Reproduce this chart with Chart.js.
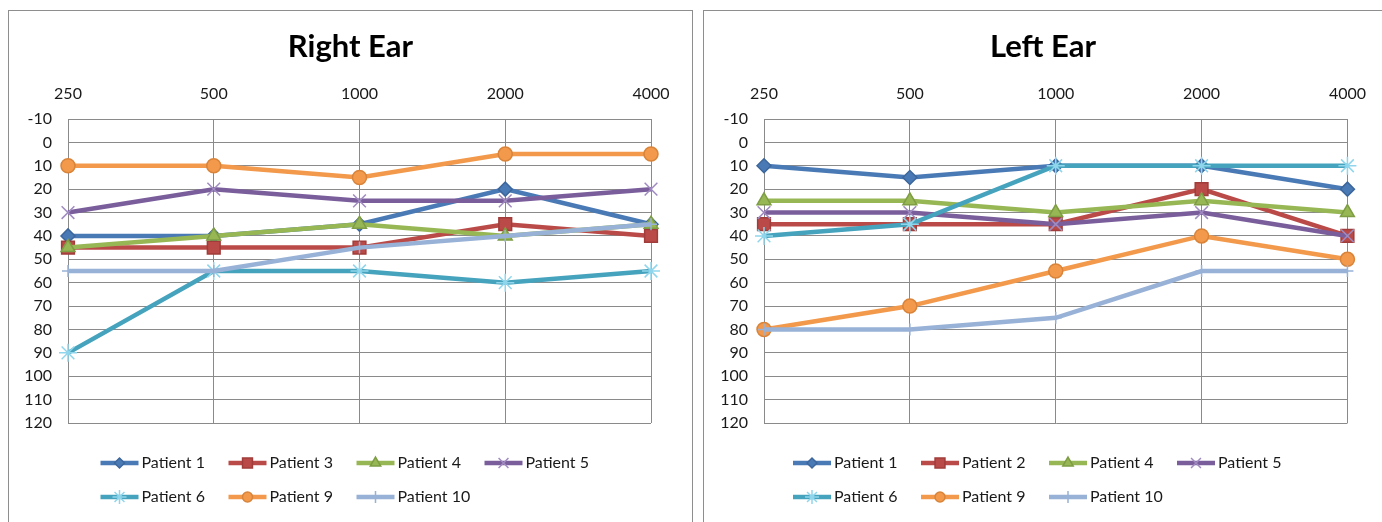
<!DOCTYPE html>
<html lang="en">
<head>
  <meta charset="UTF-8" />
  <title>Audiogram - Right / Left Ear</title>
  <script src="https://cdn.jsdelivr.net/npm/chart.js"></script>
  <style>
    body {
      margin: 0;
      background: #fff;
      font-family: Lato, sans-serif;
    }
    .box {
      position: absolute;
      top: 10px;
      height: 530px;
      border: 1px solid #8e8e8e;
      background: #fff;
    }
    #rightBox { left: 8px; width: 683px; }
    #leftBox { left: 703px; width: 690px; }
    canvas { display: block; }
  </style>
</head>
<body>
  <div class="box" id="rightBox"><canvas id="rightChart" width="683" height="511"></canvas></div>
  <div class="box" id="leftBox"><canvas id="leftChart" width="678" height="511"></canvas></div>

  <script>
    // frequencies (Hz) along the top
    const freqs = ['250', '500', '1000', '2000', '4000'];

    // hearing level (dB), right ear
    const rightP1  = [40, 40, 35, 20, 35];
    const rightP3  = [45, 45, 45, 35, 40];
    const rightP4  = [45, 40, 35, 40, 35];
    const rightP5  = [30, 20, 25, 25, 20];
    const rightP6  = [90, 55, 55, 60, 55];
    const rightP9  = [10, 10, 15, 5, 5];
    const rightP10 = [55, 55, 45, 40, 35];

    // hearing level (dB), left ear
    const leftP1  = [10, 15, 10, 10, 20];
    const leftP2  = [35, 35, 35, 20, 40];
    const leftP4  = [25, 25, 30, 25, 30];
    const leftP5  = [30, 30, 35, 30, 40];
    const leftP6  = [40, 35, 10, 10, 10];
    const leftP9  = [80, 70, 55, 40, 50];
    const leftP10 = [80, 80, 75, 55, 55];

    const looks = {
      'Patient 1':  { color: '#4A7AB5', point: 'rectRot',  r: 7, fill: '#4A7AB5', edge: '#3D679C', lr: 5 },
      'Patient 2':  { color: '#BA4A47', point: 'rect',     r: 9, fill: '#BA4A47', edge: '#A03C3A', lr: 7 },
      'Patient 3':  { color: '#BA4A47', point: 'rect',     r: 9, fill: '#BA4A47', edge: '#A03C3A', lr: 7 },
      'Patient 4':  { color: '#97B755', point: 'triangle', r: 8, fill: '#97B755', edge: '#7E9D44', lr: 6 },
      'Patient 5':  { color: '#7A5E9C', point: 'crossRot', r: 9, fill: '#7A5E9C', edge: '#A08BC0', lr: 7 },
      'Patient 6':  { color: '#46A3BD', point: 'star',     r: 9, fill: '#46A3BD', edge: '#8FD6EC', lr: 7 },
      'Patient 9':  { color: '#F2994B', point: 'circle',   r: 7, fill: '#F2994B', edge: '#D9843A', lr: 5 },
      'Patient 10': { color: '#98B1D6', point: 'cross',    r: 6, fill: '#98B1D6', edge: '#98B1D6', lr: 6 }
    };

    function series(label, data, i, n) {
      const s = looks[label];
      return {
        label: label,
        data: data,
        borderColor: s.color,
        backgroundColor: s.color,
        borderWidth: 4.5,
        tension: 0,
        pointStyle: s.point,
        pointRadius: s.r,
        pointHoverRadius: s.r,
        pointBackgroundColor: s.fill,
        pointBorderColor: s.edge,
        pointBorderWidth: 1.5,
        legendRadius: s.lr,
        clip: false,
        order: n - i // later series on top
      };
    }

    // line + marker legend, laid out in a 4-column grid below the plot
    const lineLegend = {
      id: 'lineLegend',
      afterDraw(chart, args, opts) {
        const ctx = chart.ctx;
        const cols = 4, colW = 128;
        const x0 = (chart.width - cols * colW) / 2 + opts.shift;
        ctx.save();
        chart.data.datasets.forEach((ds, i) => {
          const x = x0 + (i % cols) * colW;
          const y = opts.top + Math.floor(i / cols) * opts.rowH;
          ctx.strokeStyle = ds.borderColor;
          ctx.lineWidth = 4.5;
          ctx.beginPath();
          ctx.moveTo(x, y);
          ctx.lineTo(x + 38, y);
          ctx.stroke();
          ctx.fillStyle = ds.pointBackgroundColor;
          ctx.strokeStyle = ds.pointBorderColor;
          ctx.lineWidth = 1.5;
          Chart.helpers.drawPoint(ctx, {
            pointStyle: ds.pointStyle, radius: ds.legendRadius, borderWidth: 1.5, rotation: 0
          }, x + 19, y);
          ctx.fillStyle = '#1a1a1a';
          ctx.font = '16px Lato';
          ctx.textAlign = 'left';
          ctx.textBaseline = 'middle';
          ctx.fillText(ds.label, x + 41, y);
        });
        ctx.restore();
      }
    };

    const tickFont = { family: 'Lato', size: 16 };
    const gridColor = '#8a8a8a';

    function makeChart(id, title, datasets, yWidth, rightPad) {
      new Chart(document.getElementById(id), {
        type: 'line',
        data: { labels: freqs, datasets: datasets },
        options: {
          responsive: false,
          animation: false,
          events: [],
          layout: { padding: { left: 0, right: 0, top: 0, bottom: 99 } },
          scales: {
            x: {
              position: 'top',
              offset: false,
              grid: { color: gridColor, drawTicks: false },
              border: { color: gridColor },
              ticks: { color: '#1a1a1a', font: tickFont, padding: 16, maxRotation: 0 },
              afterFit(s) { s.height = 53.8; }
            },
            y: {
              reverse: true,
              min: -10,
              max: 120,
              grid: { color: gridColor, drawTicks: false },
              border: { color: gridColor },
              ticks: { stepSize: 10, color: '#1a1a1a', font: tickFont, padding: 16 },
              afterFit(s) { s.width = yWidth; }
            },
            // empty spacer on the right so the title stays centred on the canvas
            spacer: {
              position: 'right',
              grid: { display: false },
              border: { display: false },
              ticks: { display: false },
              afterFit(s) { s.width = rightPad; }
            }
          },
          plugins: {
            legend: { display: false },
            tooltip: { enabled: false },
            title: {
              display: true,
              text: title,
              color: '#000',
              font: { family: 'Lato', size: 31, weight: 'bold' },
              padding: { top: 17, bottom: 0 }
            },
            lineLegend: { top: 452, rowH: 34, shift: 6 }
          }
        },
        plugins: [lineLegend]
      });
    }

    const rightSets = [
      ['Patient 1', rightP1], ['Patient 3', rightP3], ['Patient 4', rightP4], ['Patient 5', rightP5],
      ['Patient 6', rightP6], ['Patient 9', rightP9], ['Patient 10', rightP10]
    ].map((d, i, a) => series(d[0], d[1], i, a.length));

    const leftSets = [
      ['Patient 1', leftP1], ['Patient 2', leftP2], ['Patient 4', leftP4], ['Patient 5', leftP5],
      ['Patient 6', leftP6], ['Patient 9', leftP9], ['Patient 10', leftP10]
    ].map((d, i, a) => series(d[0], d[1], i, a.length));

    makeChart('rightChart', 'Right Ear', rightSets, 59, 41);
    makeChart('leftChart', 'Left Ear', leftSets, 60, 34);
  </script>
</body>
</html>
